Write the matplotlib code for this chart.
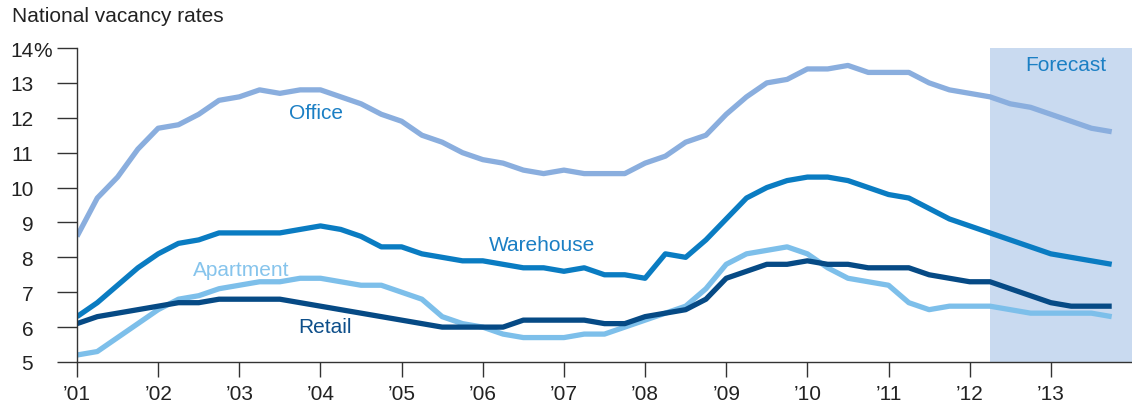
import numpy as np
import matplotlib.pyplot as plt

plt.rcParams['font.family'] = ['Liberation Sans', 'DejaVu Sans']

# quarterly, 2001 Q1 .. 2013 Q4
quarters = np.arange(2001, 2014, 0.25)

office = [8.6, 9.7, 10.3, 11.1, 11.7, 11.8, 12.1, 12.5,
          12.6, 12.8, 12.7, 12.8, 12.8, 12.6, 12.4, 12.1,
          11.9, 11.5, 11.3, 11.0, 10.8, 10.7, 10.5, 10.4,
          10.5, 10.4, 10.4, 10.4, 10.7, 10.9, 11.3, 11.5,
          12.1, 12.6, 13.0, 13.1, 13.4, 13.4, 13.5, 13.3,
          13.3, 13.3, 13.0, 12.8, 12.7, 12.6, 12.4, 12.3,
          12.1, 11.9, 11.7, 11.6]

warehouse = [6.3, 6.7, 7.2, 7.7, 8.1, 8.4, 8.5, 8.7,
             8.7, 8.7, 8.7, 8.8, 8.9, 8.8, 8.6, 8.3,
             8.3, 8.1, 8.0, 7.9, 7.9, 7.8, 7.7, 7.7,
             7.6, 7.7, 7.5, 7.5, 7.4, 8.1, 8.0, 8.5,
             9.1, 9.7, 10.0, 10.2, 10.3, 10.3, 10.2, 10.0,
             9.8, 9.7, 9.4, 9.1, 8.9, 8.7, 8.5, 8.3,
             8.1, 8.0, 7.9, 7.8]

apartment = [5.2, 5.3, 5.7, 6.1, 6.5, 6.8, 6.9, 7.1,
             7.2, 7.3, 7.3, 7.4, 7.4, 7.3, 7.2, 7.2,
             7.0, 6.8, 6.3, 6.1, 6.0, 5.8, 5.7, 5.7,
             5.7, 5.8, 5.8, 6.0, 6.2, 6.4, 6.6, 7.1,
             7.8, 8.1, 8.2, 8.3, 8.1, 7.7, 7.4, 7.3,
             7.2, 6.7, 6.5, 6.6, 6.6, 6.6, 6.5, 6.4,
             6.4, 6.4, 6.4, 6.3]

retail = [6.1, 6.3, 6.4, 6.5, 6.6, 6.7, 6.7, 6.8,
          6.8, 6.8, 6.8, 6.7, 6.6, 6.5, 6.4, 6.3,
          6.2, 6.1, 6.0, 6.0, 6.0, 6.0, 6.2, 6.2,
          6.2, 6.2, 6.1, 6.1, 6.3, 6.4, 6.5, 6.8,
          7.4, 7.6, 7.8, 7.8, 7.9, 7.8, 7.8, 7.7,
          7.7, 7.7, 7.5, 7.4, 7.3, 7.3, 7.1, 6.9,
          6.7, 6.6, 6.6, 6.6]

years = list(range(2001, 2014))
year_labels = ['\u2019%02d' % (y % 100) for y in years]
forecast_start = 2012.25

fig = plt.figure(figsize=(11.32, 4.10), dpi=100)
ax = fig.add_axes([77 / 1132, 47 / 410, 1 - 77 / 1132, 314 / 410])

ax.axvspan(forecast_start, 2014, color='#c9daf0', lw=0, zorder=0)

lw = 3.8
ax.plot(quarters, office, color='#8aaede', lw=lw, solid_capstyle='butt')
ax.plot(quarters, warehouse, color='#0a7cc2', lw=lw, solid_capstyle='butt')
ax.plot(quarters, apartment, color='#7dbfea', lw=lw, solid_capstyle='butt')
ax.plot(quarters, retail, color='#064a85', lw=lw, solid_capstyle='butt')

fs = 15
ax.text(2003.95, 12.15, 'Office', color='#1b7fc4', fontsize=fs, ha='center', va='center')
ax.text(2006.73, 8.38, 'Warehouse', color='#1b7fc4', fontsize=fs, ha='center', va='center')
ax.text(2003.02, 7.66, 'Apartment', color='#86c4ec', fontsize=fs, ha='center', va='center')
ax.text(2004.06, 6.03, 'Retail', color='#0e4f8a', fontsize=fs, ha='center', va='center')
ax.text(2013.18, 13.54, 'Forecast', color='#1b7fc4', fontsize=fs, ha='center', va='center')

ax.set_xlim(2001, 2014)
ax.set_ylim(5, 14)
ax.set_xticks(years)
ax.set_xticklabels(year_labels)
ax.set_yticks(range(5, 15))
ax.set_yticklabels([str(v) for v in range(5, 15)])
ax.text(-0.0415, 14, '%', transform=ax.get_yaxis_transform(), fontsize=fs,
        ha='left', va='center_baseline', color='#222222')

for s in ['top', 'right']:
    ax.spines[s].set_visible(False)
for s in ['left', 'bottom']:
    ax.spines[s].set_color('#333333')
    ax.spines[s].set_linewidth(1.0)

ax.tick_params(axis='y', length=14.5, width=1.0, color='#333333', pad=17,
               labelsize=fs, labelcolor='#222222')
ax.tick_params(axis='x', length=11, width=1.0, color='#333333', pad=5,
               labelsize=fs, labelcolor='#222222')

fig.text(12 / 1132, 1 - 17 / 410, 'National vacancy rates', fontsize=fs,
         ha='left', va='center', color='#222222')

fig.savefig('out.png', dpi=100)
